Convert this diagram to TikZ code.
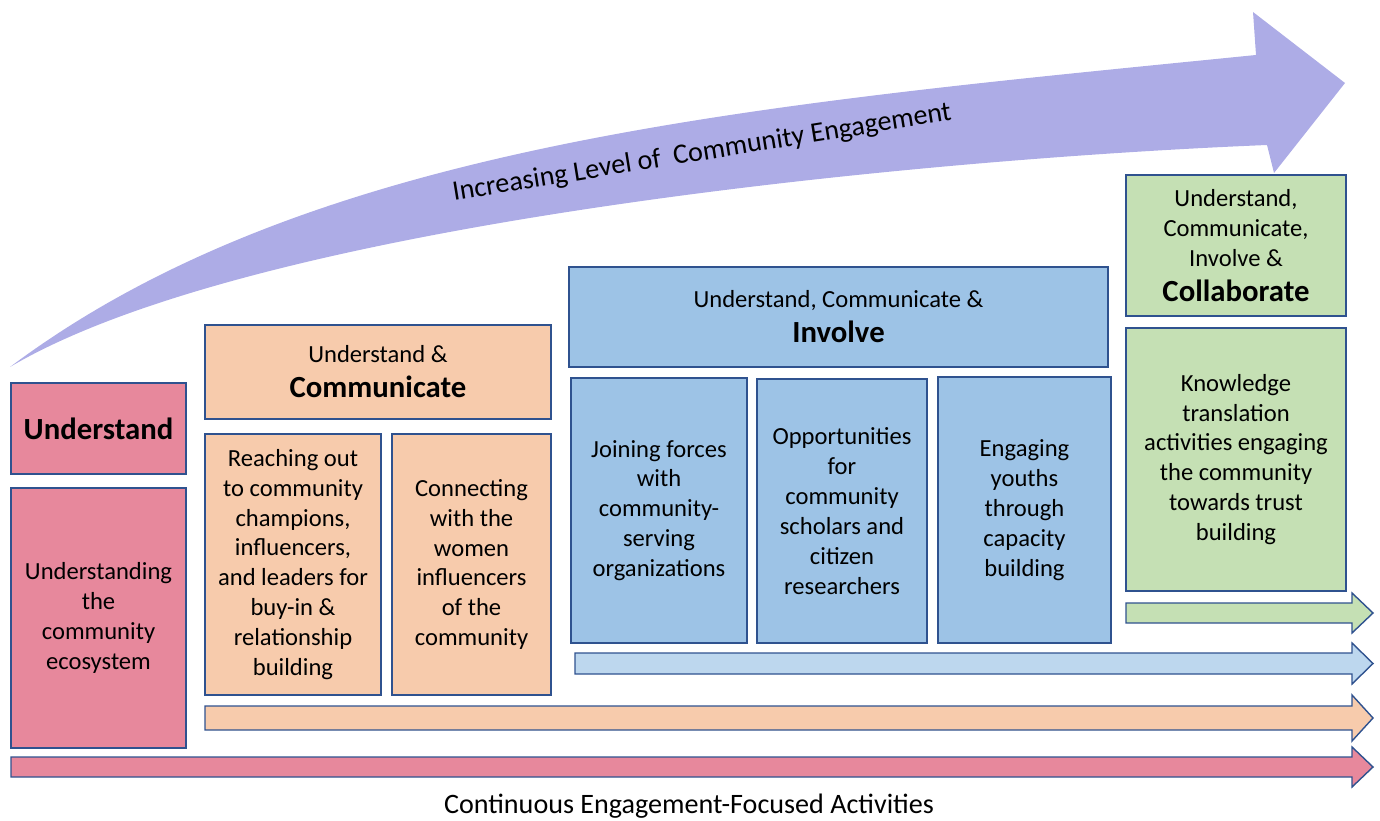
\documentclass[tikz,border=0pt]{standalone}
\usepackage{fontspec}
\setmainfont{Carlito}
\definecolor{pinkfill}{RGB}{231,136,156}
\definecolor{peachfill}{RGB}{247,203,172}
\definecolor{bluefill}{RGB}{157,195,230}
\definecolor{paleblue}{RGB}{189,215,238}
\definecolor{greenfill}{RGB}{197,224,180}
\definecolor{lavender}{RGB}{173,172,230}
\definecolor{edgeblue}{RGB}{47,82,143}
\tikzset{
    cell/.style = {rectangle, draw=edgeblue, line width=0.8pt, inner sep=0pt, align=center, font=\fontsize{14}{17}\selectfont},
    cellp/.style = {cell, fill=pinkfill},
    cello/.style = {cell, fill=peachfill},
    cellb/.style = {cell, fill=bluefill},
    cellg/.style = {cell, fill=greenfill},
    dims/.style 2 args = {minimum width=#1*0.02cm, minimum height=#2*0.02cm},
    flowline/.style = {draw=edgeblue, line width=0.8pt}, % bottom arrows
}
\newcommand{\Hd}[1]{{\fontsize{17.5}{21}\selectfont\bfseries #1}}
% colour, start x, centre y, shaft half width, head half width
\newcommand{\flow}[5]{\draw[flowline, fill=#1] (#2,#3-#4) -- (1352,#3-#4) -- (1352,#3-#5) -- (1373,#3) -- (1352,#3+#5) -- (1352,#3+#4) -- (#2,#3+#4) -- cycle;}

\begin{document}
\begin{tikzpicture}[x=0.02cm, y=-0.02cm]
\useasboundingbox (0,0) rectangle (1380,821);
% big curved arrow
\fill[lavender] (10,367) .. controls (310,142) and (756,105) .. (1256,55) -- (1253,12) -- (1345,83) -- (1274,173) -- (1267,145) .. controls (900,160) and (250,225) .. (10,367) -- cycle;
\node[rotate=9.2, font=\fontsize{16}{19}\selectfont] (level) at (702,153) {Increasing Level of \ Community Engagement};
%
\node[cellp, dims={175}{91}] (utitle) at (98.5,428.5) {\Hd{Understand}};
\node[cellp, dims={175}{260}] (ubody) at (98.5,618) {Understanding\\the\\community\\ecosystem};
%
\node[cello, dims={346}{94}] (ctitle) at (378,372) {Understand \&\\[3pt]\Hd{Communicate}};
\node[cello, dims={176}{261}] (cbodya) at (293,564.5) {Reaching out\\to community\\champions,\\influencers,\\and leaders for\\buy-in \&\\relationship\\building};
\node[cello, dims={159}{261}] (cbodyb) at (471.5,564.5) {Connecting\\with the\\women\\influencers\\of the\\community};
%
\node[cellb, dims={539}{100}] (ititle) at (838.5,317) {Understand, Communicate \&\\[3pt]\Hd{Involve}};
\node[cellb, dims={176}{265}] (ibodya) at (659,510.5) {Joining forces\\with\\community-\\serving\\organizations};
\node[cellb, dims={170}{264}] (ibodyb) at (842,511) {Opportunities\\for\\community\\scholars and\\citizen\\researchers};
\node[cellb, dims={173}{266}] (ibodyc) at (1024.5,510) {Engaging\\youths\\through\\capacity\\building};
%
\node[cellg, dims={220}{141}] (ktitle) at (1236,245.5) {Understand,\\Communicate,\\Involve \&\\[3pt]\Hd{Collaborate}};
\node[cellg, dims={220}{263}] (kbody) at (1236,459.5) {Knowledge\\translation\\activities engaging\\the community\\towards trust\\building};
%
\flow{greenfill}{1126}{613}{10}{20}
\flow{paleblue}{575}{663.5}{10.5}{20.5}
\flow{peachfill}{205}{718}{12}{23}
\flow{pinkfill}{11}{767}{10}{20}
\node[font=\fontsize{16}{19}\selectfont] (caption) at (689,806) {Continuous Engagement-Focused Activities};
\end{tikzpicture}
\end{document}
